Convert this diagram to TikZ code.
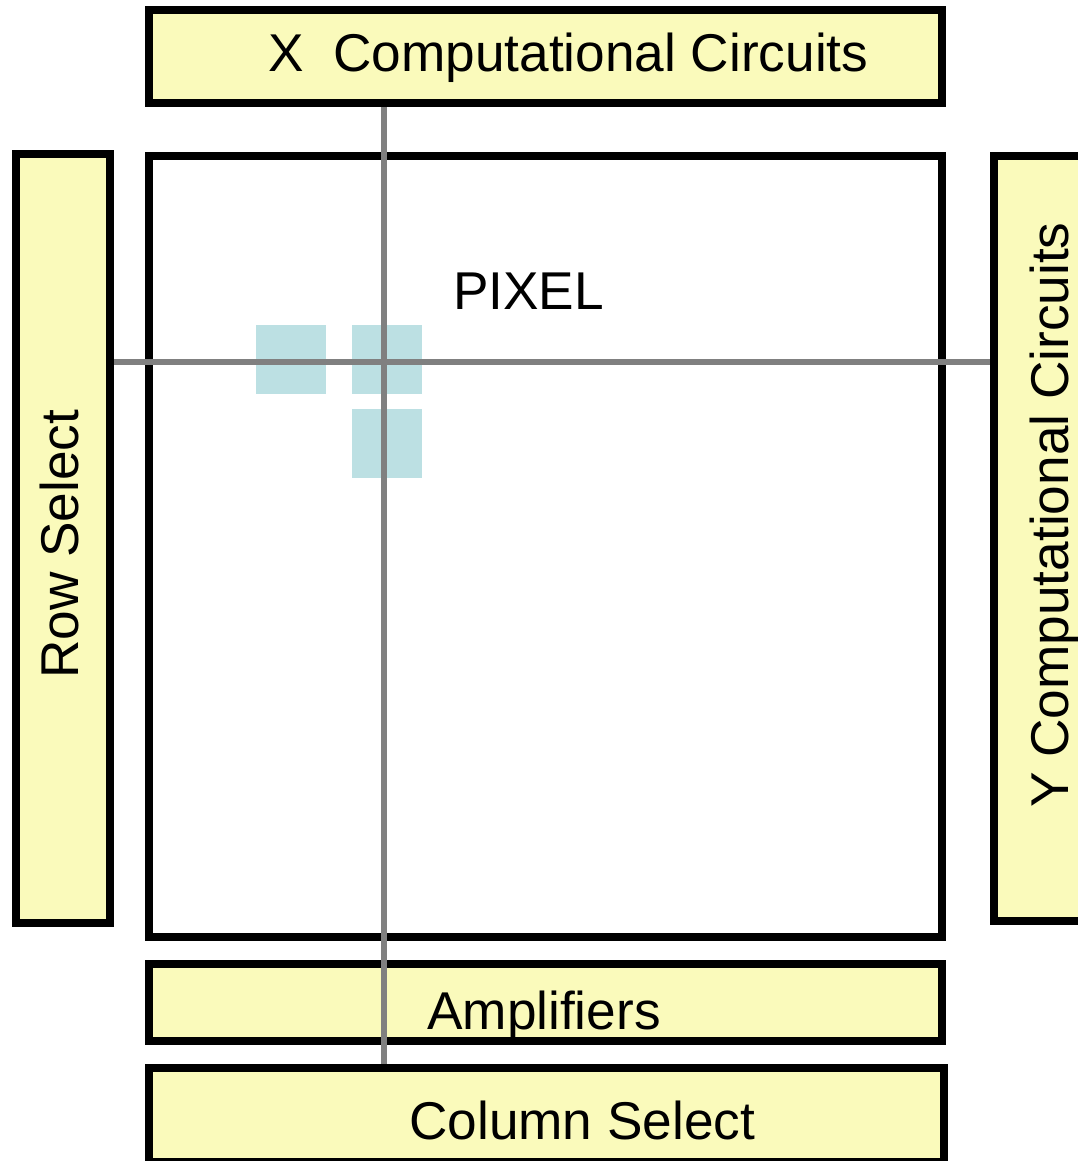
\documentclass[tikz,border=0pt]{standalone}
\usepackage{fontspec}
\setmainfont{Liberation Sans}
\definecolor{panel}{RGB}{250,250,187}
\definecolor{cell}{RGB}{188,224,227}
\definecolor{wire}{RGB}{128,128,128}
\begin{document}
\begin{tikzpicture}[x=1pt,y=-1pt,
  block/.style={draw=black,line width=8pt,fill=panel,minimum width=#1,inner sep=0pt},
  array/.style={draw=black,line width=8pt,fill=white,inner sep=0pt},
  pixcell/.style={fill=cell,draw=none,minimum width=70pt,minimum height=69pt,inner sep=0pt},
  label/.style={inner sep=0pt,anchor=base west,font=\fontsize{53.2}{60}\selectfont},
  line/.style={draw=wire,line width=6pt}]
\useasboundingbox (0,0) rectangle (1078,1161);
\clip (0,0) rectangle (1078,1161);

% peripheral circuit blocks and the pixel array
\node[block=793pt,minimum height=93.5pt] (xcc) at (545.5,56.75) {};
\node[array,minimum width=793pt,minimum height=780.5pt] (arr) at (545.5,546.75) {};
\node[block=94pt,minimum height=769pt] (row) at (63,538.5) {};
\node[block=110pt,minimum height=764.5pt] (ycc) at (1049,538.75) {};
\node[block=793pt,minimum height=77pt] (amp) at (545.5,1002.5) {};
\node[block=795pt,minimum height=94pt] (col) at (546.5,1115) {};

% neighbouring pixel cells
\node[pixcell] (c1) at (291,359.5) {};
\node[pixcell] (c2) at (387,359.5) {};
\node[pixcell] (c3) at (387,443.5) {};

% selected column and row wires
\coordinate (vx) at (384,0);
\coordinate (hy) at (0,362);
\draw[line] (xcc.south -| vx) -- (col.north -| vx);
\draw[line] (row.east |- hy) -- (ycc.west |- hy);

% labels
\node[label] (txcc) at (268,72) {X\ \ Computational Circuits};
\node[label] (tpix) at (453,309) {PIXEL};
\node[label,rotate=90] (trow) at (78,679) {Row Select};
\node[label,rotate=90] (tycc) at (1068,808) {Y Computational Circuits};
\node[label] (tamp) at (427,1029) {Amplifiers};
\node[label] (tcol) at (409,1139) {Column Select};
\end{tikzpicture}
\end{document}
